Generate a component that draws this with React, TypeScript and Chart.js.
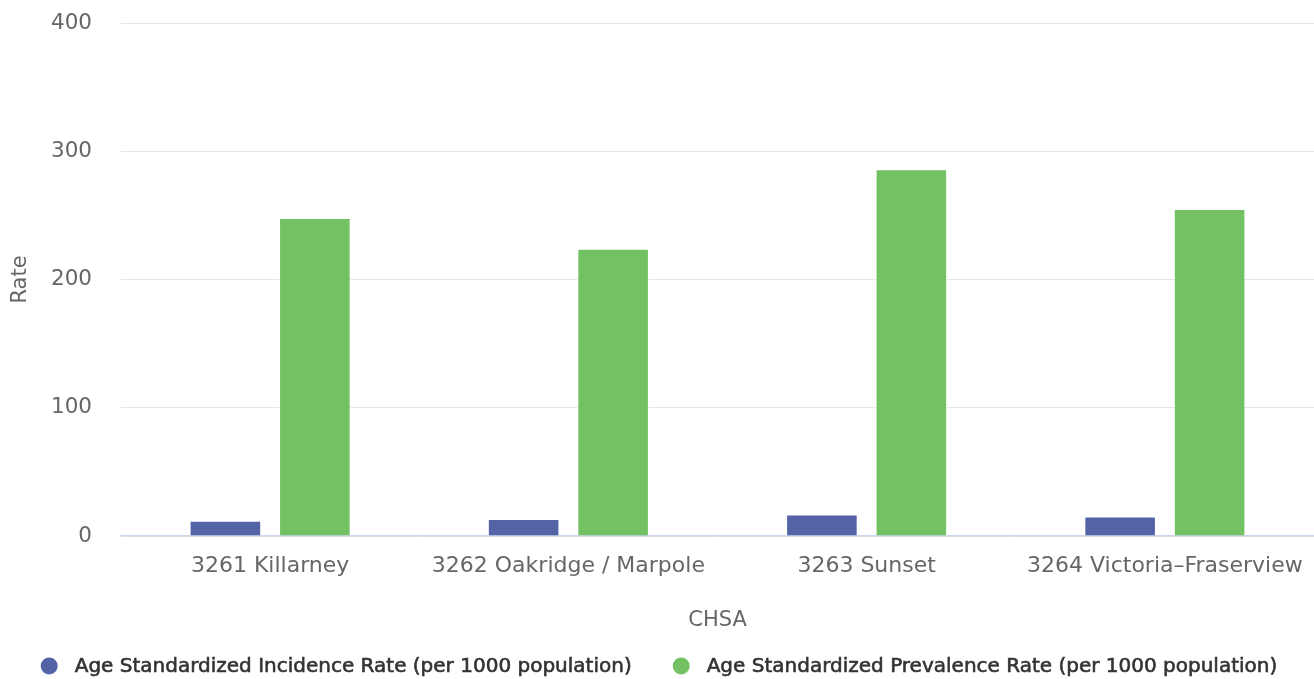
import React, { useEffect, useRef } from "react";
import { Chart, registerables } from "chart.js";

Chart.register(...registerables);

const categories = [
  "3261 Killarney",
  "3262 Oakridge / Marpole",
  "3263 Sunset",
  "3264 Victoria–Fraserview",
];
const incidenceLabel = "Age Standardized Incidence Rate (per 1000 population)";
const prevalenceLabel = "Age Standardized Prevalence Rate (per 1000 population)";
const incidenceValues = [11.9, 13.3, 16.8, 15.2];
const prevalenceValues = [248, 224, 286, 255];
const yTicks = [0, 100, 200, 300, 400];

const W = 1314;
const H = 679;
const PLOT_TOP = 23;
const PLOT_BOTTOM = 536;

const legendPlugin = {
  id: "customLegend",
  afterDraw(chart: any) {
    const ctx = chart.ctx;
    const items = chart.data.datasets.map((d: any) => ({
      label: d.label,
      color: d.backgroundColor,
    }));
    ctx.save();
    ctx.font = "20px 'DejaVu Sans'";
    const diam = 17;
    const gap = 17;
    const itemGap = 41;
    const widths = items.map(
      (it: any) => diam + gap + ctx.measureText(it.label).width
    );
    const total =
      widths.reduce((a: number, b: number) => a + b, 0) +
      itemGap * (items.length - 1);
    let x = chart.width / 2 - total / 2 + 2;
    const y = 666;
    items.forEach((it: any, i: number) => {
      ctx.fillStyle = it.color;
      ctx.beginPath();
      ctx.arc(x + diam / 2, y, diam / 2, 0, Math.PI * 2);
      ctx.fill();
      ctx.fillStyle = "#333333";
      ctx.strokeStyle = "#333333";
      ctx.lineWidth = 0.6;
      ctx.textBaseline = "middle";
      ctx.textAlign = "left";
      ctx.fillText(it.label, x + diam + gap, y + 1);
      ctx.strokeText(it.label, x + diam + gap, y + 1);
      x += widths[i] + itemGap;
    });
    ctx.restore();
  },
};

export default function App() {
  const ref = useRef<HTMLCanvasElement | null>(null);

  useEffect(() => {
    document.body.style.margin = "0";
    const canvas = ref.current;
    if (!canvas) return;
    const chart = new Chart(canvas, {
      type: "bar",
      data: {
        labels: categories,
        datasets: [
          {
            label: incidenceLabel,
            data: incidenceValues,
            backgroundColor: "#5363a6",
            borderColor: "#ffffff",
            borderWidth: 1,
            categoryPercentage: 0.6,
            barPercentage: 0.8,
          },
          {
            label: prevalenceLabel,
            data: prevalenceValues,
            backgroundColor: "#73c163",
            borderColor: "#ffffff",
            borderWidth: 1,
            categoryPercentage: 0.6,
            barPercentage: 0.8,
          },
        ],
      },
      options: {
        responsive: false,
        maintainAspectRatio: false,
        animation: false,
        devicePixelRatio: 1,
        layout: {
          padding: { top: PLOT_TOP, right: 0, left: 0, bottom: H - PLOT_BOTTOM - 100 },
        },
        plugins: {
          legend: { display: false },
          tooltip: { enabled: false },
        },
        scales: {
          x: {
            grid: { display: false, drawTicks: false },
            border: { display: true, color: "#ccd6eb", width: 1.5 },
            ticks: {
              color: "#666666",
              font: { family: "'DejaVu Sans'", size: 22 },
              padding: 17,
              maxRotation: 0,
              autoSkip: false,
            },
            title: {
              display: true,
              text: "CHSA",
              color: "#666666",
              font: { family: "'DejaVu Sans'", size: 21 },
              padding: { top: 0, bottom: 3 },
            },
            afterFit(scale: any) {
              scale.height = 100;
              scale.paddingLeft = 0;
              scale.paddingRight = 0;
            },
          },
          y: {
            min: 0,
            max: 400,
            afterBuildTicks(scale: any) {
              scale.ticks = yTicks.map((v) => ({ value: v }));
            },
            grid: { color: "#e6e6e6", lineWidth: 1, drawTicks: false },
            border: { display: false },
            ticks: {
              color: "#666666",
              font: { family: "'DejaVu Sans'", size: 21.5 },
              padding: 29,
            },
            title: {
              display: true,
              text: "Rate",
              color: "#666666",
              font: { family: "'DejaVu Sans'", size: 21 },
              padding: { top: 8, bottom: 0 },
            },
            afterFit(scale: any) {
              scale.width = 121;
              scale.paddingTop = 0;
              scale.paddingBottom = 0;
            },
          },
        },
      },
      plugins: [legendPlugin],
    });
    return () => chart.destroy();
  }, []);

  return (
    <div style={{ width: W, height: H }}>
      <canvas ref={ref} width={W} height={H} style={{ display: "block" }} />
    </div>
  );
}
